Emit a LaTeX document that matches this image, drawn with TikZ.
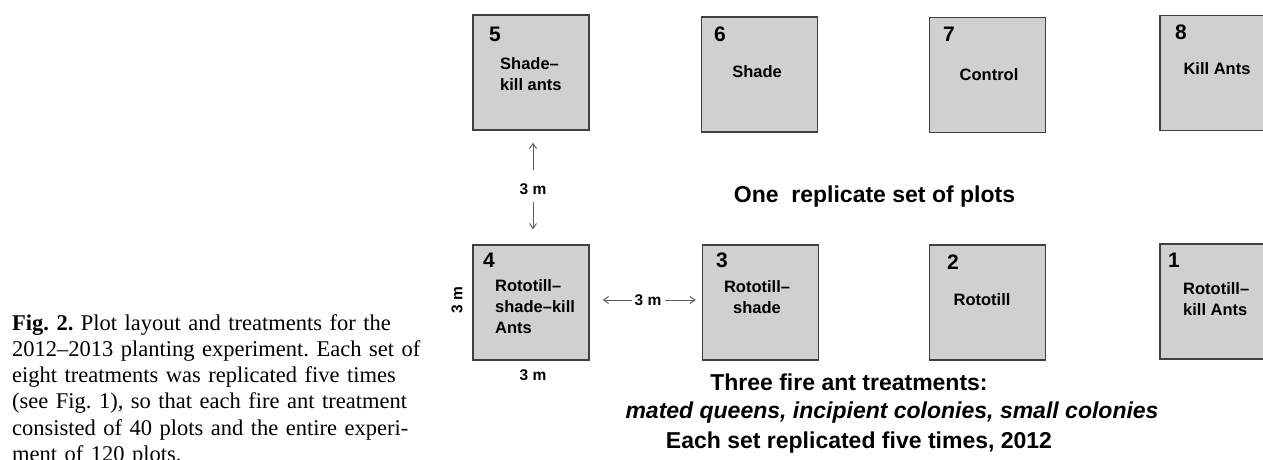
\documentclass[tikz,border=0pt]{standalone}
\usepackage{fontspec}
\setmainfont{Liberation Serif}
\setsansfont{Liberation Sans}
\usepackage{tikz}
\usetikzlibrary{arrows.meta}
\usetikzlibrary{positioning}
\frenchspacing
\definecolor{plotfill}{RGB}{208,208,208}
\definecolor{plotedge}{RGB}{64,64,64}
\definecolor{dimgray}{RGB}{95,95,95}
\tikzstyle{plotbox}=[draw=plotedge,fill=plotfill,line width=1.4pt,minimum width=116pt,minimum height=115pt,inner sep=0pt]
\tikzstyle{plotnum}=[inner sep=0pt,anchor=west,font=\sffamily\bfseries\fontsize{21}{21}\selectfont]
\tikzstyle{treat}=[inner sep=0pt,font=\sffamily\bfseries\fontsize{16.5}{21}\selectfont]
\tikzstyle{dimtext}=[inner sep=0pt,font=\sffamily\bfseries\fontsize{15.5}{15.5}\selectfont]
\tikzstyle{dimarrow}=[draw=dimgray,line width=1pt,-{Straight Barb[length=5pt,width=7pt]}]
\tikzstyle{title}=[inner sep=0pt,anchor=base,font=\sffamily\bfseries\fontsize{23}{23}\selectfont]

\begin{document}
\begin{tikzpicture}[x=1pt,y=-1pt]
\useasboundingbox (0,0) rectangle (1263,459);
% plots, top row
\node [plotbox] (b5) at (531,72.5) {};
\node [plotbox] (b6) at (759.5,74.5) {};
\node [plotbox] (b7) at (987.5,75) {};
\node [plotbox] (b8) at (1218,73) {};
% plots, bottom row
\node [plotbox] (b4) at (531,302.5) {};
\node [plotbox] (b3) at (760.5,302.5) {};
\node [plotbox] (b2) at (987.5,302.5) {};
\node [plotbox] (b1) at (1218,301.5) {};

\node [plotnum] (n5) at (489,34) {5};
\node [plotnum] (n6) at (714,34) {6};
\node [plotnum] (n7) at (943,34) {7};
\node [plotnum] (n8) at (1175,32) {8};
\node [plotnum] (n4) at (483,260) {4};
\node [plotnum] (n3) at (716,260) {3};
\node [plotnum] (n2) at (947,262) {2};
\node [plotnum] (n1) at (1168,260) {1};

\node [treat,anchor=west,align=left] (t5) at (500,74) {Shade–\\kill ants};
\node [treat] (t6) at (757,72) {Shade};
\node [treat] (t7) at (989,75) {Control};
\node [treat] (t8) at (1217,69) {Kill Ants};
\node [treat,anchor=west,align=left] (t4) at (495,307) {Rototill–\\shade–kill\\Ants};
\node [treat,align=center] (t3) at (757,297) {Rototill–\\shade};
\node [treat] (t2) at (982,300) {Rototill};
\node [treat,anchor=west,align=left] (t1) at (1183,299) {Rototill–\\kill Ants};

% distances
\node [dimtext] (dimv) at (533,189) {3 m};
\draw [dimarrow,shorten <=19pt,shorten >=12pt] (dimv.center) -- (b5.south -| dimv);
\draw [dimarrow,shorten <=13pt,shorten >=15pt] (dimv.center) -- (b4.north -| dimv);
\node [dimtext] (dimh) at (648,300) {3 m};
\draw [dimarrow,shorten <=16pt,shorten >=13pt] (dimh.center) -- (b4.east |- dimh);
\draw [dimarrow,shorten <=17pt,shorten >=6pt] (dimh.center) -- (b3.west |- dimh);
\node [dimtext,rotate=90] (side) at (457,300) {3 m};
\node [dimtext] (under) at (533,375) {3 m};

% titles
\node [title] (set) at (874.5,202) {One~~replicate set of plots};
\node [title] (three) at (849,390) {Three fire ant treatments:};
\node [title,font=\sffamily\bfseries\itshape\fontsize{23}{23}\selectfont] (kinds) at (892,418) {mated queens, incipient colonies, small colonies};
\node [title] (reps) at (859,448) {Each set replicated five times, 2012};

% caption
\node [inner sep=0pt,anchor=base west,text width=395pt,align=left,font=\fontsize{22.5}{26.3}\selectfont] (cap) at (12,330)
  {\makebox[395pt][s]{\textbf{Fig. 2.} Plot layout and treatments for the}\\
   \makebox[395pt][s]{2012–2013 planting experiment. Each set of}\\
   \makebox[395pt][s]{eight treatments was replicated five times}\\
   \makebox[395pt][s]{(see Fig. 1), so that each fire ant treatment}\\
   \makebox[395pt][s]{consisted of 40 plots and the entire experi-}\\
   ment of 120 plots.};
\end{tikzpicture}
\end{document}
